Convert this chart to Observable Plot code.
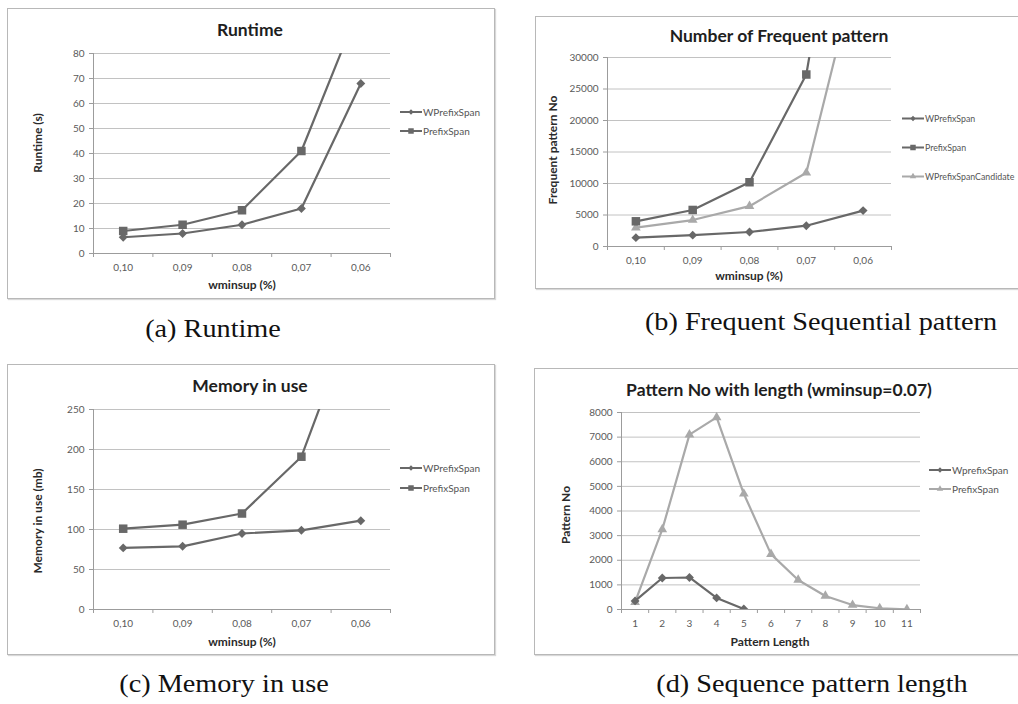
<!DOCTYPE html>
<html><head><meta charset="utf-8">
<script src="https://cdn.jsdelivr.net/npm/d3@7"></script>
<script src="https://cdn.jsdelivr.net/npm/@observablehq/plot@0.6"></script>
<style>
body{margin:0;background:#fff;width:1018px;height:704px;position:relative;overflow:hidden;font-family:Lato,sans-serif;}
.frame{position:absolute;border:1px solid #b8b8b8;box-shadow:1px 1px 1px #d8d8d8;background:#fff;box-sizing:border-box;}
.abs{position:absolute;white-space:nowrap;}
.title{font-weight:bold;font-size:17.5px;color:#1e1e1e;transform:translate(-50%,-50%);}
.xt{font-weight:bold;font-size:12px;color:#2a2a2a;transform:translate(-50%,-50%);}
.yt{font-weight:bold;font-size:12px;color:#2a2a2a;transform:translate(-50%,-50%) rotate(-90deg);}
.cap{font-family:"Liberation Serif",serif;font-size:25px;color:#111;transform:translate(-50%,-50%) scaleX(1.13);}
.leg{font-size:10px;color:#555;display:flex;align-items:center;transform:translateY(-50%);}
.leg svg{margin-right:1px;}
svg.plot{position:absolute;overflow:visible;}
</style></head><body>
<script>
// ---- data ----
const wminsupLabels = ["0,10", "0,09", "0,08", "0,07", "0,06"];
const wminsupIdx = [0, 1, 2, 3, 4];

const runtimeWPrefixSpan = [6.5, 8, 11.5, 18, 68];
const runtimePrefixSpan = [9, 11.5, 17.3, 41, 100];
const runtimeTicks = [0, 10, 20, 30, 40, 50, 60, 70, 80];

const freqWPrefixSpan = [1400, 1800, 2300, 3300, 5700];
const freqPrefixSpan = [4000, 5800, 10200, 27300, 80000];
const freqWPrefixSpanCandidate = [3000, 4200, 6400, 11700, 48000];
const freqTicks = [0, 5000, 10000, 15000, 20000, 25000, 30000];

const memWPrefixSpan = [77, 79, 95, 99, 111];
const memPrefixSpan = [101, 106, 120, 191, 390];
const memTicks = [0, 50, 100, 150, 200, 250];

const patternLengths = [1, 2, 3, 4, 5, 6, 7, 8, 9, 10, 11];
const lenWprefixSpan = [350, 1280, 1300, 470, 20];
const lenPrefixSpan = [300, 3250, 7100, 7800, 4700, 2250, 1200, 550, 180, 50, 10];
const lenTicks = [0, 1000, 2000, 3000, 4000, 5000, 6000, 7000, 8000];

const DARK = "#686868", LIGHT = "#a9a9a9", AXIS = "#9c9c9c", GRID = "#c2c2c2";
const STY = {diamond: {symbol: "diamond2", r: 4}, square: {symbol: "square", r: 4.8}, triangle: {symbol: "triangle", r: 3.6}};

function el(cls, text, x, y, extra) {
  const d = document.createElement("div");
  d.className = "abs " + cls;
  d.textContent = text;
  d.style.left = x + "px"; d.style.top = y + "px";
  if (extra) Object.assign(d.style, extra);
  document.body.appendChild(d);
  return d;
}
function frame(x, y, w, h) {
  const d = document.createElement("div");
  d.className = "frame";
  Object.assign(d.style, {left: x + "px", top: y + "px", width: w + "px", height: h + "px"});
  document.body.appendChild(d);
}
function legend(x, y, items, gap, fontSize) {
  items.forEach((it, k) => {
    const d = document.createElement("div");
    d.className = "abs leg";
    d.style.left = x + "px"; d.style.top = (y + k * gap) + "px";
    if (fontSize) d.style.fontSize = fontSize;
    const s = d3.create("svg").attr("width", 22).attr("height", 10);
    s.append("line").attr("x1", 0).attr("x2", 22).attr("y1", 5).attr("y2", 5).attr("stroke", it.color).attr("stroke-width", 2);
    const typ = it.shape === "diamond" ? d3.symbolDiamond2 : it.shape === "square" ? d3.symbolSquare : d3.symbolTriangle;
    const sz = it.shape === "square" ? 30 : 18;
    s.append("path").attr("transform", "translate(11,5)").attr("d", d3.symbol(typ, sz)()).attr("fill", it.color);
    d.appendChild(s.node());
    const t = document.createElement("span"); t.textContent = it.name; d.appendChild(t);
    document.body.appendChild(d);
  });
}
function panel(cfg) {
  const {left, top, width, height, ml, mr, mt, mb, xs, xDomain, xBounds, xFmt, yTicks, series} = cfg;
  const marks = [
    Plot.gridY(yTicks, {stroke: GRID, strokeOpacity: 1}),
    Plot.ruleX([xDomain[0]], {stroke: AXIS}),
    Plot.ruleY([yTicks[0]], {stroke: AXIS}),
    Plot.axisY(yTicks, {tickSize: 4, tickPadding: 5, stroke: AXIS, fill: "#5a5a5a", tickFormat: d3.format("d"), label: null}),
    Plot.axisX(xBounds, {tickSize: 4, stroke: AXIS, tickFormat: () => "", label: null}),
    Plot.axisX(xs, {tickSize: 0, tickPadding: 10, fill: "#5a5a5a", tickFormat: xFmt, label: null})
  ];
  series.forEach(s => {
    const rows = s.values.map((v, i) => ({x: xs[i], y: v}));
    marks.push(Plot.line(rows, {x: "x", y: "y", stroke: s.color, strokeWidth: 2.2, clip: true}));
    marks.push(Plot.dot(rows, {x: "x", y: "y", symbol: STY[s.shape].symbol, r: STY[s.shape].r, fill: s.color, stroke: "none", clip: true}));
  });
  const svg = Plot.plot({
    width, height, marginLeft: ml, marginRight: mr, marginTop: mt, marginBottom: mb,
    x: {type: "linear", domain: xDomain, axis: null},
    y: {domain: [yTicks[0], yTicks[yTicks.length - 1]], axis: null},
    style: {fontFamily: "Lato, sans-serif", fontSize: "10px", background: "transparent", overflow: "visible"},
    marks
  });
  svg.classList.add("plot");
  svg.style.left = left + "px"; svg.style.top = top + "px";
  document.body.appendChild(svg);
}

const idxBounds = [-0.5, 0.5, 1.5, 2.5, 3.5, 4.5];
const lenBounds = patternLengths.map(d => d - 0.5).concat([11.5]);
const wfmt = i => wminsupLabels[i];

// (a) Runtime
frame(7, 8, 488, 291);
panel({left: 7, top: 8, width: 488, height: 291, ml: 86, mr: 105, mt: 45, mb: 46,
  xs: wminsupIdx, xDomain: [-0.5, 4.5], xBounds: idxBounds, xFmt: wfmt, yTicks: runtimeTicks,
  series: [
    {values: runtimeWPrefixSpan, color: DARK, shape: "diamond"},
    {values: runtimePrefixSpan, color: DARK, shape: "square"}
  ]});
el("title", "Runtime", 250, 29);
el("xt", "wminsup (%)", 242, 284);
el("yt", "Runtime (s)", 37, 143);
legend(400, 112, [{name: "WPrefixSpan", color: DARK, shape: "diamond"}, {name: "PrefixSpan", color: DARK, shape: "square"}], 19);

// (b) Number of Frequent pattern
frame(535, 16, 490, 273);
panel({left: 535, top: 16, width: 483, height: 273, ml: 72, mr: 127, mt: 41, mb: 43,
  xs: wminsupIdx, xDomain: [-0.5, 4.5], xBounds: idxBounds, xFmt: wfmt, yTicks: freqTicks,
  series: [
    {values: freqWPrefixSpan, color: DARK, shape: "diamond"},
    {values: freqWPrefixSpanCandidate, color: LIGHT, shape: "triangle"},
    {values: freqPrefixSpan, color: DARK, shape: "square"}
  ]});
el("title", "Number of Frequent pattern", 779, 35);
el("xt", "wminsup (%)", 749, 275);
el("yt", "Frequent  pattern No", 552, 150);
legend(902, 118, [{name: "WPrefixSpan", color: DARK, shape: "diamond"}, {name: "PrefixSpan", color: DARK, shape: "square"}, {name: "WPrefixSpanCandidate", color: LIGHT, shape: "triangle"}], 29, "8.8px");

// (c) Memory in use
frame(7, 364, 488, 291);
panel({left: 7, top: 364, width: 488, height: 291, ml: 86, mr: 105, mt: 45, mb: 46,
  xs: wminsupIdx, xDomain: [-0.5, 4.5], xBounds: idxBounds, xFmt: wfmt, yTicks: memTicks,
  series: [
    {values: memWPrefixSpan, color: DARK, shape: "diamond"},
    {values: memPrefixSpan, color: DARK, shape: "square"}
  ]});
el("title", "Memory in use", 250, 385);
el("xt", "wminsup (%)", 242, 641);
el("yt", "Memory in use (mb)", 37, 521);
legend(400, 468, [{name: "WPrefixSpan", color: DARK, shape: "diamond"}, {name: "PrefixSpan", color: DARK, shape: "square"}], 20);

// (d) Pattern No with length
frame(534, 368, 490, 287);
panel({left: 534, top: 368, width: 484, height: 287, ml: 87, mr: 98, mt: 44, mb: 46,
  xs: patternLengths, xDomain: [0.5, 11.5], xBounds: lenBounds, xFmt: d => String(d), yTicks: lenTicks,
  series: [
    {values: lenPrefixSpan, color: LIGHT, shape: "triangle"},
    {values: lenWprefixSpan, color: DARK, shape: "diamond"}
  ]});
el("title", "Pattern No with length (wminsup=0.07)", 779, 389);
el("xt", "Pattern Length", 770, 641);
el("yt", "Pattern No", 565, 515);
legend(929, 470, [{name: "WprefixSpan", color: DARK, shape: "diamond"}, {name: "PrefixSpan", color: LIGHT, shape: "triangle"}], 19);

// captions
el("cap", "(a) Runtime", 213, 329);
el("cap", "(b) Frequent Sequential pattern", 821, 322);
el("cap", "(c) Memory in use", 224, 684);
el("cap", "(d) Sequence pattern length", 812, 684);
</script></body></html>
